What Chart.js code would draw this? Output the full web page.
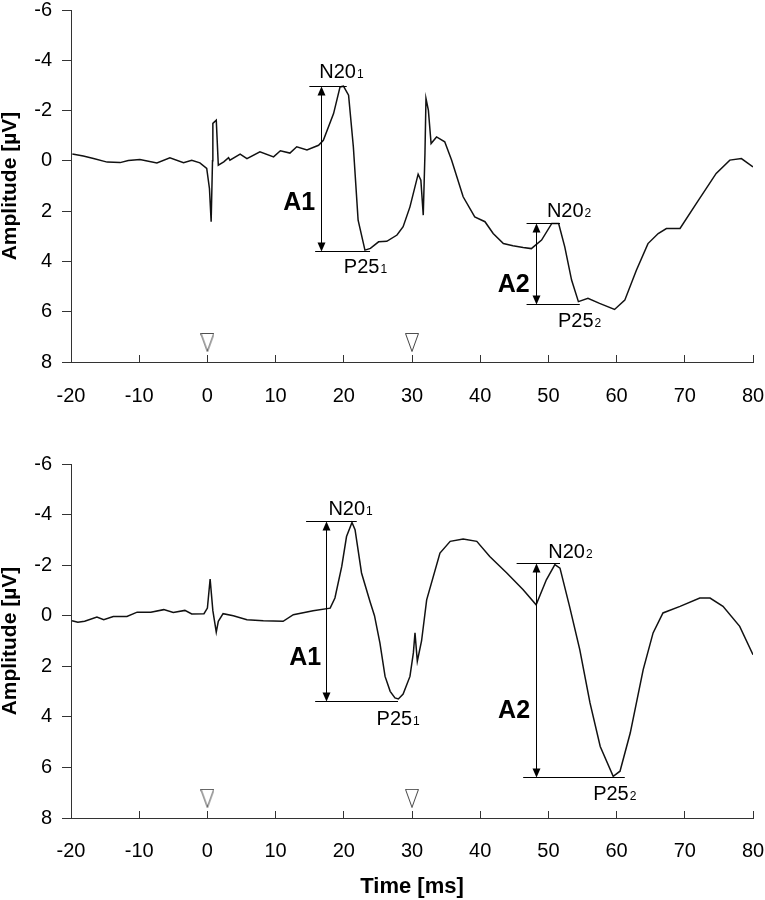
<!DOCTYPE html>
<html>
<head>
<meta charset="utf-8">
<script src="https://cdn.jsdelivr.net/npm/chart.js@4/dist/chart.umd.min.js"></script>
<style>
body{margin:0;background:#fff;width:765px;height:900px;position:relative;overflow:hidden}
canvas{position:absolute;left:0}
</style>
</head>
<body>
<canvas id="topChart" width="765" height="434" style="top:-4px"></canvas>
<canvas id="bottomChart" width="765" height="470" style="top:430px"></canvas>
<script>
// axis ranges [min, max, step]
var timeRange = [-20, 80, 10];
var ampRange = [-6, 8, 2];

// stimulus markers (ms) and the height they sit at
var stimTimes = [0, 30];
var stimLevel = 7.22;

// upper trace
var topTime = [-19.8,-18.2,-16.7,-14.7,-12.8,-11.6,-9.9,-7.4,-5.5,-3.5,-2.3,-1.1,-0.1,0.3,0.55,0.75,0.8,1.3,1.6,2.4,3.1,3.3,4.8,5.8,7.7,9.7,10.7,12.1,13.1,14.6,16.3,17.0,18.5,19.45,19.95,20.7,21.4,22.1,23.1,23.9,25.1,26.3,27.8,28.7,29.7,30.9,31.3,31.65,31.9,32.05,32.4,32.8,33.6,34.8,35.8,37.5,39.2,40.7,41.9,43.4,44.8,46.3,47.5,49.0,50.5,51.5,52.4,53.4,54.4,55.8,57.5,59.7,61.2,62.9,64.6,66.1,67.3,69.3,71.7,74.6,76.6,78.3,80];
var topAmp = [-0.27,-0.19,-0.09,0.05,0.07,-0.01,-0.05,0.08,-0.12,0.07,-0.02,0.08,0.3,1.1,2.42,0,-1.49,-1.62,0.17,0.04,-0.13,-0.03,-0.27,-0.09,-0.36,-0.16,-0.4,-0.31,-0.56,-0.43,-0.62,-0.82,-1.88,-2.94,-2.97,-2.61,-0.56,2.36,3.55,3.48,3.22,3.2,2.95,2.62,1.83,0.53,0.77,2.16,-0.29,-2.48,-2.02,-0.69,-0.95,-0.76,-0.03,1.43,2.23,2.42,2.89,3.29,3.38,3.45,3.49,3.15,2.49,2.49,3.42,4.74,5.6,5.47,5.67,5.91,5.54,4.35,3.29,2.89,2.69,2.69,1.69,0.5,-0.03,-0.09,0.24];

// lower trace
var bottomTime = [-19.85,-19.0,-18.0,-16.2,-15.2,-13.8,-11.8,-10.3,-8.3,-6.4,-5.0,-3.3,-2.3,-0.5,0.0,0.4,0.8,1.3,1.6,2.3,3.8,5.8,8.2,11.1,12.6,15.5,18.0,18.7,19.7,20.4,21.2,21.65,22.6,23.85,24.5,25.3,26.05,26.8,27.5,28.0,28.7,29.7,30.2,30.44,30.78,31.4,32.15,34.1,35.6,37.5,39.5,41.4,43.9,46.3,48.2,49.7,50.95,51.7,53.1,54.6,56.1,57.6,59.5,60.5,62.0,63.9,65.35,66.8,69.3,72.2,73.7,75.6,78.05,80];
var bottomAmp = [0.2,0.26,0.22,0.05,0.16,0.03,0.03,-0.14,-0.14,-0.24,-0.13,-0.21,-0.07,-0.08,-0.3,-1.45,-0.2,0.65,0.22,-0.08,0,0.16,0.2,0.22,-0.04,-0.2,-0.3,-0.7,-1.95,-3.13,-3.69,-3.4,-1.69,-0.55,0.0,1.08,2.4,2.99,3.25,3.29,3.1,2.4,1.47,0.68,1.8,1.0,-0.63,-2.48,-2.94,-3.03,-2.94,-2.34,-1.69,-1.03,-0.43,-1.42,-2.02,-1.88,-0.37,1.34,3.45,5.17,6.35,6.15,4.64,2.13,0.68,-0.11,-0.37,-0.7,-0.7,-0.37,0.42,1.54];

// peak level lines [from ms, to ms, amplitude]
var topPeakLines = [[14.95,20.43,-2.97],[15.8,23.85,3.58],[46.8,51.7,2.46],[46.8,54.6,5.71]];
var bottomPeakLines = [[14.47,21.9,-3.73],[15.8,27.95,3.36],[45.34,51.7,-2.08],[46.3,61.2,6.39]];
// amplitude arrows [ms, from, to]
var topArrows = [[16.6,-2.97,3.58],[48.2,2.46,5.71]];
var bottomArrows = [[17.4,-3.73,3.36],[48.2,-2.08,6.39]];
// peak names [name, index, ms, amplitude]
var topPeakNames = [['N20','1',16.4,-3.28],['P25','1',20.0,4.48],['N20','2',49.78,2.25],['P25','2',51.4,6.62]];
var bottomPeakNames = [['N20','1',17.74,-3.99],['P25','1',24.8,4.31],['N20','2',49.97,-2.28],['P25','2',56.56,7.27]];
// amplitude names [text, ms, amplitude]
var topAmpNames = [['A1',13.45,1.96],['A2',44.9,5.21]];
var bottomAmpNames = [['A1',14.33,1.94],['A2',44.97,4.04]];

var fontFamily = '"Liberation Sans", Arial, sans-serif';
Chart.defaults.font.family = fontFamily;
Chart.defaults.color = '#000';

var tri = document.createElement('canvas');
tri.width = 14; tri.height = 19;
var tc = tri.getContext('2d');
tc.fillStyle = '#fff'; tc.strokeStyle = '#444'; tc.lineWidth = 1;
tc.beginPath(); tc.moveTo(0.5,0.5); tc.lineTo(13.5,0.5); tc.lineTo(7,18.5); tc.closePath(); tc.fill(); tc.stroke();

function arrowHead(ctx, x, y, dir){
  ctx.beginPath();
  ctx.moveTo(x, y);
  ctx.lineTo(x - 4, y + dir*9);
  ctx.lineTo(x + 4, y + dir*9);
  ctx.closePath();
  ctx.fill();
}

function peakMarks(lines, arrows, names, ampNames){
  return {
    id: 'peakMarks',
    afterDatasetsDraw: function(chart){
      var x = chart.scales.x, y = chart.scales.y, ctx = chart.ctx;
      ctx.save();
      ctx.strokeStyle = '#000'; ctx.fillStyle = '#000'; ctx.lineWidth = 1;
      lines.forEach(function(l){
        var py = Math.round(y.getPixelForValue(l[2])) + 0.5;
        ctx.beginPath(); ctx.moveTo(x.getPixelForValue(l[0]), py); ctx.lineTo(x.getPixelForValue(l[1]), py); ctx.stroke();
      });
      arrows.forEach(function(a){
        var px = Math.round(x.getPixelForValue(a[0])) + 0.5;
        var y1 = Math.round(y.getPixelForValue(a[1])) + 0.5, y2 = Math.round(y.getPixelForValue(a[2])) + 0.5;
        ctx.beginPath(); ctx.moveTo(px, y1 + 4); ctx.lineTo(px, y2 - 4); ctx.stroke();
        arrowHead(ctx, px, y1, 1); arrowHead(ctx, px, y2, -1);
      });
      ctx.textBaseline = 'alphabetic';
      names.forEach(function(n){
        var px = x.getPixelForValue(n[2]), py = y.getPixelForValue(n[3]);
        ctx.textAlign = 'left';
        ctx.font = '20px ' + fontFamily;
        ctx.fillText(n[0], px, py);
        var w = ctx.measureText(n[0]).width;
        ctx.font = '12px ' + fontFamily;
        ctx.fillText(n[1], px + w + 1, py);
      });
      ampNames.forEach(function(n){
        ctx.textAlign = 'center';
        ctx.font = 'bold 25px ' + fontFamily;
        ctx.fillText(n[0], x.getPixelForValue(n[1]), y.getPixelForValue(n[2]));
      });
      ctx.restore();
    }
  };
}

function traceChart(id, times, amps, marks, layout){
  return new Chart(document.getElementById(id), {
    type: 'line',
    data: {
      datasets: [{
        data: times.map(function(t,i){ return {x:t, y:amps[i]}; }),
        borderColor: '#111', borderWidth: 1.5, pointRadius: 0, tension: 0, fill: false
      },{
        type: 'scatter',
        data: stimTimes.map(function(t){ return {x:t, y:stimLevel}; }),
        pointStyle: tri, pointRadius: 8, pointHoverRadius: 8
      }]
    },
    options: {
      responsive: false, animation: false, events: [],
      layout: {autoPadding: false, padding: {top: layout.top, left: 0, right: 12, bottom: 0}},
      plugins: {legend: {display: false}, tooltip: {enabled: false}},
      scales: {
        x: {
          type: 'linear', min: timeRange[0], max: timeRange[1],
          afterFit: function(s){ s.height = layout.xHeight; s.paddingLeft = 0; s.paddingRight = 0; },
          ticks: {stepSize: timeRange[2], padding: layout.labelPad, maxRotation: 0, font: {size: 20}, color: '#000'},
          grid: {drawOnChartArea: false, drawTicks: true, tickLength: -7, color: '#333'},
          border: {color: '#333', width: 1},
          title: {display: layout.title, text: 'Time [ms]', font: {size: 22, weight: 'bold', lineHeight: 1}, padding: {top: 0, bottom: 2}, color: '#000'}
        },
        y: {
          type: 'linear', reverse: true, min: ampRange[0], max: ampRange[1],
          afterFit: function(s){ s.width = 71; s.paddingTop = 0; s.paddingBottom = 0; },
          ticks: {stepSize: ampRange[2], padding: 10, font: {size: 20}, color: '#000'},
          grid: {drawOnChartArea: false, drawTicks: true, tickLength: 9, color: '#333'},
          border: {color: '#333', width: 1},
          title: {display: true, text: 'Amplitude [µV]', font: {size: 21, weight: 'bold', lineHeight: 1}, padding: 0, color: '#000'}
        }
      }
    },
    plugins: [marks]
  });
}

traceChart('topChart', topTime, topAmp, peakMarks(topPeakLines, topArrows, topPeakNames, topAmpNames),
  {top: 14, xHeight: 68, labelPad: 29, title: false});
traceChart('bottomChart', bottomTime, bottomAmp, peakMarks(bottomPeakLines, bottomArrows, bottomPeakNames, bottomAmpNames),
  {top: 34, xHeight: 82, labelPad: 28, title: true});
</script>
</body>
</html>
